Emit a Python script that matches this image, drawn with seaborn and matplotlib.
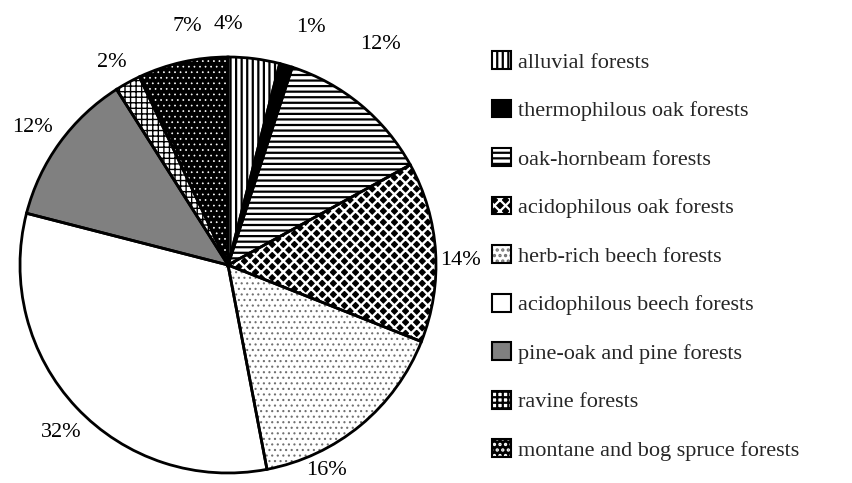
import matplotlib

matplotlib.use("Agg")

import matplotlib.pyplot as plt
import seaborn as sns
from matplotlib.legend_handler import HandlerTuple
from matplotlib.patches import Patch
import numpy as np

# forest types and their share (%)
FOREST_TYPES = [
    "alluvial forests",
    "thermophilous oak forests",
    "oak-hornbeam forests",
    "acidophilous oak forests",
    "herb-rich beech forests",
    "acidophilous beech forests",
    "pine-oak and pine forests",
    "ravine forests",
    "montane and bog spruce forests",
]
SHARES = [4, 1, 12, 14, 16, 32, 12, 2, 7]
PCT_LABELS = ["4%", "1%", "12%", "14%", "16%", "32%", "12%", "2%", "7%"]

# fill, hatch, hatch colour, hatch width per wedge
FACES = ["white", "black", "white", "black", "white", "white", "#808080", "white", "black"]
HATCHES = ["|||", None, "---", "xxx", "...", None, None, "+++", "..."]
HATCH_COLORS = ["black", "black", "black", "white", "#707070", "black", "#808080", "black", "white"]
HATCH_LW = [1.6, 1.0, 1.6, 1.7, 0.8, 1.0, 1.0, 1.0, 0.5]

# label placement tweaks (degrees clockwise, radius factor)
LABEL_SHIFT = [-7, 3, -5, 2.5, 14, -2, -1, -1, 3]
LABEL_DIST = [1.155, 1.21, 1.29, 1.12, 1.095, 1.135, 1.15, 1.12, 1.165]

sns.set_theme(style="white")
plt.rcParams["font.family"] = ["Liberation Serif", "DejaVu Serif"]
plt.rcParams["hatch.linewidth"] = 1.6

fig = plt.figure(figsize=(8.53, 4.83), dpi=100)
cx, cy, r = 228, 265, 208
ax = fig.add_axes([(cx - r) / 853, (483 - cy - r) / 483, 2 * r / 853, 2 * r / 483])


def style_patch(p, h, hc, lw):
    p.set_edgecolor(hc)
    p.set_linewidth(0)
    if h:
        p.set_hatch(h)
    if hasattr(p, "set_hatch_linewidth"):
        p.set_hatch_linewidth(lw)


# first pass: fills and hatches (hatch colour follows edgecolor)
wedges, _ = ax.pie(
    SHARES,
    startangle=90,
    counterclock=False,
    colors=FACES,
    wedgeprops=dict(linewidth=0),
)
for w, h, hc, lw in zip(wedges, HATCHES, HATCH_COLORS, HATCH_LW):
    style_patch(w, h, hc, lw)

# second pass: black outlines
ax.pie(
    SHARES,
    startangle=90,
    counterclock=False,
    wedgeprops=dict(fill=False, edgecolor="black", linewidth=2),
)
ax.set_xlim(-1, 1)
ax.set_ylim(-1, 1)
ax.axis("off")

cum = np.cumsum([0] + SHARES)
for i, lab in enumerate(PCT_LABELS):
    mid = (cum[i] + cum[i + 1]) / 2 / sum(SHARES) * 360 + LABEL_SHIFT[i]
    ang = np.deg2rad(mid)
    ax.text(
        LABEL_DIST[i] * np.sin(ang),
        LABEL_DIST[i] * np.cos(ang),
        lab,
        ha="center",
        va="center",
        fontsize=16,
        color="black",
    )

handles = []
for face, h, hc, lw in zip(FACES, HATCHES, HATCH_COLORS, HATCH_LW):
    inner = Patch(facecolor=face)
    style_patch(inner, h, hc, lw)
    outer = Patch(fill=False, edgecolor="black", linewidth=1.5)
    handles.append((inner, outer))

fig.legend(
    handles,
    FOREST_TYPES,
    handler_map={tuple: HandlerTuple(ndivide=1, pad=0)},
    loc="upper left",
    bbox_to_anchor=(492 / 853, 1 - 51 / 483),
    frameon=False,
    fontsize=16,
    handlelength=0.85,
    handleheight=0.85,
    handletextpad=0.32,
    labelspacing=1.215,
    borderaxespad=0,
    borderpad=0,
)

fig.savefig("out.png", dpi=100, facecolor="white")
